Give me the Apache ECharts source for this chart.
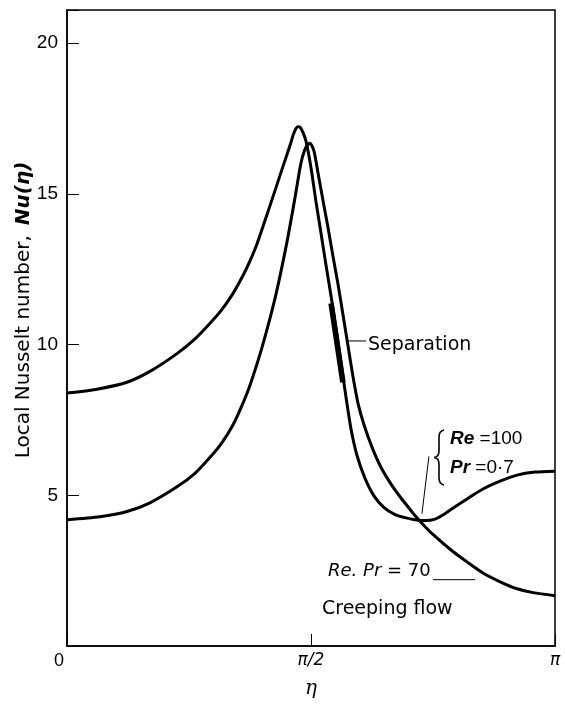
<!DOCTYPE html>
<html>
<head>
<meta charset="utf-8">
<script src="https://cdn.jsdelivr.net/npm/echarts@6/dist/echarts.min.js"></script>
<style>
  html, body { margin: 0; padding: 0; background: #fff; }
  #myChart { width: 565px; height: 704px; }
</style>
</head>
<body>
<div id="myChart"></div>
<script>
  // Re = 100, Pr = 0.7
  var etaRe100 = [0, 0.193, 0.386, 0.534, 0.708, 0.824, 0.921, 0.998, 1.069, 1.133, 1.178, 1.223, 1.307, 1.391, 1.436, 1.455, 1.474, 1.487, 1.500, 1.519, 1.539, 1.571, 1.603, 1.635, 1.667, 1.700, 1.732, 1.764, 1.796, 1.828, 1.867, 1.918, 1.976, 2.041, 2.112, 2.176, 2.240, 2.305, 2.369, 2.433, 2.498, 2.575, 2.678, 2.788, 2.897, 3.013, 3.1416];
  var nuRe100  = [8.39, 8.52, 8.75, 9.11, 9.70, 10.19, 10.71, 11.17, 11.70, 12.29, 12.78, 13.34, 14.61, 15.92, 16.61, 16.94, 17.17, 17.23, 17.22, 17.04, 16.74, 15.86, 14.74, 13.70, 12.65, 11.60, 10.52, 9.40, 8.26, 7.21, 6.32, 5.57, 4.98, 4.59, 4.36, 4.26, 4.19, 4.16, 4.21, 4.39, 4.62, 4.88, 5.21, 5.47, 5.67, 5.77, 5.80];

  // Re.Pr = 70, creeping flow
  var etaCreep = [0, 0.212, 0.386, 0.534, 0.708, 0.824, 0.921, 0.998, 1.069, 1.133, 1.178, 1.255, 1.339, 1.416, 1.468, 1.506, 1.532, 1.551, 1.564, 1.590, 1.616, 1.648, 1.680, 1.712, 1.745, 1.777, 1.809, 1.841, 1.873, 1.912, 1.964, 2.021, 2.086, 2.150, 2.195, 2.240, 2.298, 2.356, 2.466, 2.575, 2.678, 2.788, 2.897, 3.000, 3.1416];
  var nuCreep  = [4.19, 4.29, 4.46, 4.75, 5.28, 5.73, 6.26, 6.75, 7.34, 8.06, 8.65, 9.90, 11.53, 13.40, 14.88, 16.02, 16.48, 16.64, 16.68, 16.42, 15.69, 14.78, 13.89, 12.94, 11.99, 10.98, 9.96, 8.94, 8.06, 7.34, 6.59, 5.93, 5.37, 4.91, 4.62, 4.33, 4.00, 3.70, 3.21, 2.79, 2.42, 2.13, 1.90, 1.77, 1.67];

  // thick mark on the Re=100 curve
  var etaSep = [1.700, 1.776];
  var nuSep  = [11.37, 8.75];

  // leader lines
  var etaSepLeader = [1.800, 1.925];
  var nuSepLeader  = [10.12, 10.12];
  var etaReLeader  = [2.330, 2.285];
  var nuReLeader   = [6.29, 4.39];
  var etaRePrLine  = [2.356, 2.627];
  var nuRePrLine   = [2.20, 2.20];

  var xTickValues = [0, Math.PI / 2, Math.PI];
  var xTickLabels = ['0', 'π/2', 'π'];
  var yTickLabels = ['5', '10', '15', '20'];

  function pairs(xs, ys) {
    var out = [];
    for (var i = 0; i < xs.length; i++) out.push([xs[i], ys[i]]);
    return out;
  }

  function lineSeries(xs, ys, width, smooth) {
    return {
      type: 'line',
      data: pairs(xs, ys),
      symbol: 'none',
      smooth: smooth,
      lineStyle: { color: '#000', width: width },
      silent: true
    };
  }

  // curly brace in front of Re / Pr, drawn from short pieces
  var braceStyle = { stroke: '#000', lineWidth: 1.6, fill: null };
  function bez(x1, y1, cx, cy, x2, y2) {
    return { type: 'bezierCurve', shape: { x1: x1, y1: y1, cpx1: cx, cpy1: cy, x2: x2, y2: y2 }, style: braceStyle };
  }
  function seg(x1, y1, x2, y2) {
    return { type: 'line', shape: { x1: x1, y1: y1, x2: x2, y2: y2 }, style: braceStyle };
  }
  var brace = [
    bez(444, 430, 439, 431, 439, 437),
    seg(439, 437, 439, 451),
    bez(439, 451, 439, 457, 434, 457.5),
    bez(434, 457.5, 439, 458, 439, 464),
    seg(439, 464, 439, 478),
    bez(439, 478, 439, 484, 444, 485)
  ];

  var font = 'Liberation Sans';
  var wide = 'DejaVu Sans';
  var myChart = echarts.init(document.getElementById('myChart'));
  myChart.setOption({
    animation: false,
    backgroundColor: '#fff',
    grid: {
      left: 67, right: 10, top: 10, bottom: 50,
      show: true, borderColor: '#000', borderWidth: 1.5
    },
    xAxis: {
      type: 'value',
      min: 0,
      max: Math.PI,
      interval: Math.PI / 2,
      name: 'η',
      nameLocation: 'middle',
      nameGap: 33,
      nameTextStyle: { fontFamily: 'DejaVu Serif', fontStyle: 'italic', fontSize: 20, color: '#000' },
      axisLine: { show: true, lineStyle: { color: '#000', width: 1.5 } },
      axisTick: { show: true, inside: true, length: 12, lineStyle: { color: '#000', width: 1 } },
      splitLine: { show: false },
      axisLabel: {
        margin: 6,
        fontFamily: font,
        fontSize: 18,
        color: '#000',
        formatter: function (v) {
          for (var i = 0; i < xTickValues.length; i++) {
            if (Math.abs(v - xTickValues[i]) < 1e-6) {
              return i === 0 ? '{z|' + xTickLabels[i] + '}' : '{p|' + xTickLabels[i] + '}';
            }
          }
          return '';
        },
        rich: {
          z: { fontFamily: font, fontSize: 18, color: '#000', padding: [0, 16, 0, 0] },
          p: { fontFamily: 'DejaVu Sans', fontStyle: 'italic', fontSize: 17, color: '#000' }
        }
      }
    },
    yAxis: {
      type: 'value',
      min: 0,
      max: 21.1,
      interval: 5,
      axisLine: { show: true, lineStyle: { color: '#000', width: 1.5 } },
      axisTick: { show: true, inside: true, length: 12, lineStyle: { color: '#000', width: 1 } },
      splitLine: { show: false },
      axisLabel: {
        margin: 9,
        fontFamily: font,
        fontSize: 19,
        color: '#000',
        formatter: function (v) {
          var s = String(v);
          return yTickLabels.indexOf(s) >= 0 ? s : '';
        }
      }
    },
    graphic: [
      {
        type: 'text', x: 24, y: 310, rotation: Math.PI / 2,
        style: {
          text: '{a|Local Nusselt number,}   {b|Nu(η)}',
          align: 'center', verticalAlign: 'middle',
          rich: {
            a: { fontFamily: wide, fontSize: 20, fill: '#000' },
            b: { fontFamily: wide, fontSize: 20, fontStyle: 'italic', fontWeight: 'bold', fill: '#000' }
          }
        }
      },
      { type: 'text', x: 368, y: 345, style: { text: 'Separation', fontFamily: wide, fontSize: 19, fill: '#000', verticalAlign: 'middle' } },
      { type: 'group', children: brace },
      {
        type: 'text', x: 450, y: 439,
        style: {
          text: '{i|Re} =100', fontFamily: font, fontSize: 19, fill: '#000', verticalAlign: 'middle',
          rich: { i: { fontFamily: font, fontSize: 19, fontStyle: 'italic', fontWeight: 'bold', fill: '#000' } }
        }
      },
      {
        type: 'text', x: 450, y: 468,
        style: {
          text: '{i|Pr} =0·7', fontFamily: font, fontSize: 19, fill: '#000', verticalAlign: 'middle',
          rich: { i: { fontFamily: font, fontSize: 19, fontStyle: 'italic', fontWeight: 'bold', fill: '#000' } }
        }
      },
      {
        type: 'text', x: 328, y: 571,
        style: {
          text: '{i|Re. Pr} = 70', fontFamily: wide, fontSize: 18, fill: '#000', verticalAlign: 'middle',
          rich: { i: { fontFamily: wide, fontSize: 18, fontStyle: 'italic', fill: '#000' } }
        }
      },
      { type: 'text', x: 322, y: 609, style: { text: 'Creeping flow', fontFamily: wide, fontSize: 19, fill: '#000', verticalAlign: 'middle' } }
    ],
    series: [
      lineSeries(etaRe100, nuRe100, 3, 0.25),
      lineSeries(etaCreep, nuCreep, 3, 0.25),
      lineSeries(etaSep, nuSep, 5.5, false),
      lineSeries(etaSepLeader, nuSepLeader, 1, false),
      lineSeries(etaReLeader, nuReLeader, 1, false),
      lineSeries(etaRePrLine, nuRePrLine, 1, false)
    ]
  });
</script>
</body>
</html>
